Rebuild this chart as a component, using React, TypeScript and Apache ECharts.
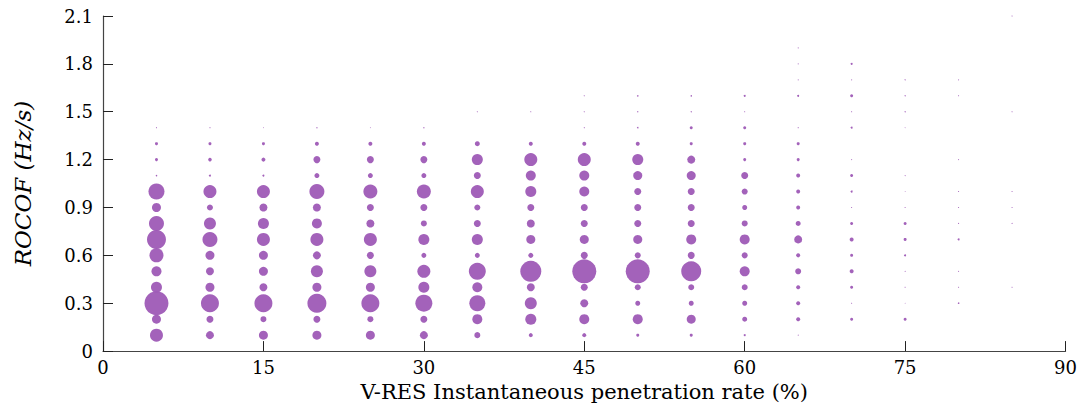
import React, { useEffect, useRef } from "react";
import * as echarts from "echarts";

// Penetration rate columns (%) and ROCOF levels (Hz/s)
const penetration = [5, 10, 15, 20, 25, 30, 35, 40, 45, 50, 55, 60, 65, 70, 75, 80, 85];
const rocofLevels = [0.1, 0.2, 0.3, 0.4, 0.5, 0.6, 0.7, 0.8, 0.9, 1.0, 1.1, 1.2, 1.3, 1.4, 1.5, 1.6, 1.7, 1.8, 1.9, 2.0, 2.1];

// Bubble weights per column, listed from ROCOF 0.1 upwards (0 = no point)
const size05 = [13, 9, 24, 11, 10, 14, 19, 15, 9, 16, 1.5, 3, 3, 1];
const size10 = [8, 7, 18, 9, 8, 9, 15, 12, 6, 13, 2, 3.5, 3, 1];
const size15 = [9, 6, 18, 8, 9, 9, 13, 11, 8, 13, 2, 4, 3, 0.8];
const size20 = [9, 7, 19, 9, 12, 8, 13, 10, 8, 15, 5, 7, 4, 1.2];
const size25 = [9, 6, 18, 9, 12, 7, 13, 8, 7, 14, 5, 7, 4, 0.8];
const size30 = [8, 7, 17, 11, 13, 5, 11, 6, 7, 14, 5, 7, 4, 1.2];
const size35 = [6, 10, 16, 10, 17, 5, 11, 7, 6, 13, 7, 11, 5, 0, 1];
const size40 = [4, 11, 12, 8, 21, 5, 9, 8, 7, 11, 10, 13, 4, 0, 1];
const size45 = [4, 10, 8, 7, 24, 7, 9, 7, 7, 10, 10, 13, 4, 1, 1, 1];
const size50 = [3, 10, 5, 6, 24, 6, 9, 7, 7, 7, 9, 11, 4, 1.5, 1.2, 1.5];
const size55 = [3, 9, 5, 6, 20, 7, 10, 7, 7, 7, 9, 8, 3, 3, 1.2, 1.5];
const size60 = [2, 5, 5, 6, 10, 6, 10, 6, 5, 6, 7, 3, 3, 3, 1, 2];
const size65 = [1, 4, 4, 4, 6, 4, 8, 5, 4, 4, 4, 3, 3, 1, 0, 2, 1, 1, 1];
const size70 = [0, 3, 1, 3, 4, 3, 4, 3, 1, 2, 3, 1, 0, 2, 1, 3, 1, 2];
const size75 = [0, 3, 0.8, 1, 1, 2, 3, 3, 1, 0.8, 1, 0, 0, 0.8, 1.2, 1.2, 1.2];
const size80 = [0, 0, 1.5, 1, 1, 0, 2, 1, 1, 1, 0, 1, 0, 0, 0, 1, 1];
const size85 = [0, 0, 0, 1, 0, 0, 0, 1, 1, 1, 0, 0, 0, 0, 1, 0, 0, 0, 0, 0, 1];

const columns = [size05, size10, size15, size20, size25, size30, size35, size40, size45,
  size50, size55, size60, size65, size70, size75, size80, size85];

const xTicks = [0, 15, 30, 45, 60, 75, 90];

export default function App() {
  const ref = useRef<HTMLDivElement>(null);
  useEffect(() => {
    if (!ref.current) return;
    const chart = echarts.init(ref.current, undefined, { renderer: "svg" });
    const data: number[][] = [];
    columns.forEach((col, i) => {
      col.forEach((s, j) => {
        if (s > 0) data.push([penetration[i], rocofLevels[j], s]);
      });
    });
    const font = "'DejaVu Serif', 'Liberation Serif', serif";
    chart.setOption({
      animation: false,
      backgroundColor: "#ffffff",
      grid: { left: 103, right: 11, top: 16, bottom: 55, containLabel: false },
      xAxis: {
        type: "value",
        min: xTicks[0],
        max: xTicks[xTicks.length - 1],
        interval: 15,
        name: "V-RES Instantaneous penetration rate (%)",
        nameLocation: "middle",
        nameGap: 27,
        nameTextStyle: { fontFamily: font, fontSize: 21, color: "#000" },
        axisLine: { show: true, lineStyle: { color: "#444", width: 1.2 } },
        axisTick: { show: true, inside: true, length: 10, lineStyle: { color: "#222", width: 1 } },
        axisLabel: { fontFamily: font, fontSize: 18, color: "#000", margin: 7 },
        splitLine: { show: false },
      },
      yAxis: {
        type: "value",
        min: 0,
        max: 2.1,
        interval: 0.3,
        name: "ROCOF (Hz/s)",
        nameLocation: "middle",
        nameGap: 69,
        nameTextStyle: { fontFamily: font, fontSize: 23, fontStyle: "italic", color: "#000" },
        axisLine: { show: true, lineStyle: { color: "#444", width: 1.2 } },
        axisTick: { show: true, inside: true, length: 10, lineStyle: { color: "#222", width: 1 } },
        axisLabel: {
          fontFamily: font,
          fontSize: 18,
          color: "#000",
          margin: 10,
          formatter: (v: number) => (v === 0 ? "0" : v.toFixed(1)),
        },
        splitLine: { show: false },
      },
      series: [
        {
          type: "scatter",
          data,
          symbol: "circle",
          symbolSize: (d: number[]) => d[2],
          itemStyle: { color: "#9E5AB6", opacity: 0.95 },
        },
      ],
    });
    return () => chart.dispose();
  }, []);
  return (
    <div
      ref={ref}
      style={{ position: "fixed", left: 0, top: 0, width: 1080, height: 407, background: "#fff" }}
    />
  );
}
